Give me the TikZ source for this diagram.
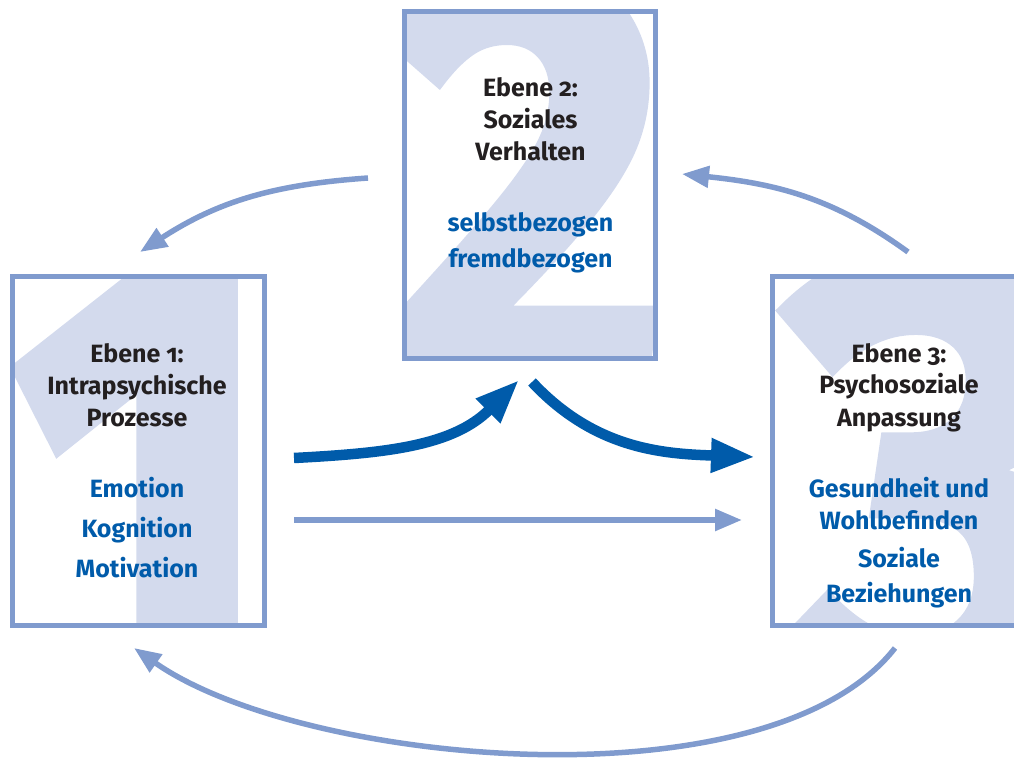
\documentclass[tikz,border=0pt]{standalone}
\usepackage{fontspec}
\setmainfont{Fira Sans}[Numbers=OldStyle]
\newfontfamily\numfont{Fira Sans}[Numbers=Lining, BoldFeatures={FakeBold=2}]
\usetikzlibrary{arrows.meta}
\definecolor{lightblue}{RGB}{128,155,206}
\definecolor{numfill}{RGB}{211,218,237}
\definecolor{darkblue}{RGB}{0,91,170}
\definecolor{txtblack}{RGB}{35,31,32}
\begin{document}
\begin{tikzpicture}[x=1pt,y=1pt,
  area/.style={draw=none, inner sep=0pt, outer sep=0pt},
  frameline/.style={draw=lightblue, line width=5pt},
  blk/.style={text=txtblack, font=\bfseries\fontsize{25}{30}\selectfont, anchor=base, inner sep=0pt},
  blu/.style={blk, text=darkblue},
  bignum/.style={text=numfill, font=\numfont\bfseries\fontsize{580}{580}\selectfont, anchor=north, inner sep=0pt},
  thinarrow/.style={draw=lightblue, line width=5.5pt, -{Triangle[length=27pt,width=21pt]}},
  thickarrow/.style={draw=darkblue, line width=10.5pt, -{Triangle[length=44pt,width=32pt]}},
]
\useasboundingbox (0,0) rectangle (1014,758);
\clip (0,0) rectangle (1014,758);

% box areas
\node[area, minimum width=252pt, minimum height=349pt] (b1) at (138.5,307) {};
\node[area, minimum width=251pt, minimum height=347pt] (b2) at (530,572.5) {};
\node[area, minimum width=268pt, minimum height=348pt] (b3) at (906,307) {};

% big numerals
\begin{scope}
  \clip (b1.south west) rectangle (b1.north east);
  \node[bignum, yscale=1.3] (n1) at (145,493) {1};
\end{scope}
\begin{scope}
  \clip (b2.south west) rectangle (b2.north east);
  \node[bignum, xscale=0.95, yscale=1.05] (n2) at (527,793) {2};
\end{scope}
\begin{scope}
  \clip (b3.south west) rectangle (b3.north east);
  \node[bignum, xscale=1.08, yscale=1.15] (n3) at (940,508) {3};
\end{scope}

% frames
\draw[frameline] (b1.south west) rectangle (b1.north east);
\draw[frameline] (b2.south west) rectangle (b2.north east);
\draw[frameline] (b3.south west) rectangle (b3.north east);

% texts box 1
\node[blk] (t11) at (137,395) {Ebene 1:};
\node[blk] (t12) at (137,363) {Intrapsychische};
\node[blk] (t13) at (137,331) {Prozesse};
\node[blu] (t14) at (137,260) {Emotion};
\node[blu] (t15) at (137,221) {Kognition};
\node[blu] (t16) at (137,181) {Motivation};

% texts box 2
\node[blk] (t21) at (530.5,661) {Ebene 2:};
\node[blk] (t22) at (530.5,629) {Soziales};
\node[blk] (t23) at (530.5,597) {Verhalten};
\node[blu] (t24) at (530.5,526) {selbstbezogen};
\node[blu] (t25) at (530.5,490) {fremdbezogen};

% texts box 3
\node[blk] (t31) at (899,395) {Ebene 3:};
\node[blk] (t32) at (899,364) {Psychosoziale};
\node[blk] (t33) at (899,331) {Anpassung};
\node[blu] (t34) at (899,260) {Gesundheit und};
\node[blu] (t35) at (899,228) {Wohlbefinden};
\node[blu] (t36) at (899,190) {Soziale};
\node[blu] (t37) at (899,156) {Beziehungen};

% arrow end points
\coordinate (tlS) at (368,580);
\coordinate (tlE) at (140,506);
\coordinate (trS) at (908,506);
\coordinate (trE) at (682,584);
\coordinate (k1S) at (294,300);
\coordinate (k1E) at (519,378);
\coordinate (k2S) at (532,376);
\coordinate (k2E) at (755,301);
\coordinate (sS) at (294,238);
\coordinate (sE) at (742,238);
\coordinate (bS) at (895,110);
\coordinate (bE) at (134,110);

\draw[thinarrow] (tlS) to[out=184,in=33] (tlE);
\draw[thinarrow] (trS) to[out=144,in=-6] (trE);
\draw[thickarrow] (k1S) to[out=3,in=225] (k1E);
\draw[thickarrow] (k2S) to[out=-47,in=178] (k2E);
\draw[thinarrow] (sS) -- (sE);
\draw[thinarrow] (bS) to[out=232,in=-35,looseness=0.69] (bE);
\end{tikzpicture}
\end{document}
